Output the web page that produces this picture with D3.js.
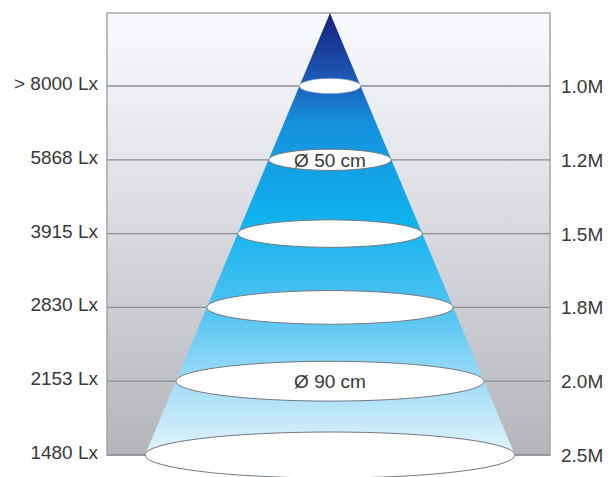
<!DOCTYPE html>
<html><head><meta charset="utf-8">
<script src="https://cdn.jsdelivr.net/npm/d3@7"></script>
<style>html,body{margin:0;padding:0;background:#fff;}svg{display:block;}</style>
</head><body>
<svg id="c" width="609" height="477"></svg>
<script>
const distances = ["1.0M","1.2M","1.5M","1.8M","2.0M","2.5M"];
const luxLabels = ["> 8000 Lx","5868 Lx","3915 Lx","2830 Lx","2153 Lx","1480 Lx"];
const beamLabels = ["","Ø 50 cm","","","Ø 90 cm",""];

const svg = d3.select("#c");
const box = {x0:107, x1:550, y0:13, y1:455};
const cx = 330;

const y = d3.scalePoint().domain(distances).range([86, 455]);
// cone half-width grows linearly from apex
const rx = d3.scaleLinear().domain([box.y0, 455]).range([0, 185]);
const ry = r => 0.1 * r + 4.5;

const defs = svg.append("defs");
const bg = defs.append("linearGradient").attr("id","bg").attr("x1",0).attr("y1",0).attr("x2",0).attr("y2",1);
bg.append("stop").attr("offset","0%").attr("stop-color","#fafbfe");
bg.append("stop").attr("offset","35%").attr("stop-color","#e2e4ea");
bg.append("stop").attr("offset","100%").attr("stop-color","#b3b5b9");

const cg = defs.append("linearGradient").attr("id","cone").attr("gradientUnits","userSpaceOnUse")
  .attr("x1",0).attr("y1",box.y0).attr("x2",0).attr("y2",470);
[[0,"#18207a"],[0.15,"#1c5cba"],[0.24,"#1690dc"],[0.45,"#10b2ee"],[0.65,"#50c3f2"],[0.82,"#a6def8"],[1,"#f2f9fe"]]
  .forEach(([o,c]) => cg.append("stop").attr("offset",o).attr("stop-color",c));

svg.append("rect").attr("x",box.x0).attr("y",box.y0).attr("width",box.x1-box.x0).attr("height",box.y1-box.y0)
  .attr("fill","url(#bg)").attr("stroke","#a4a6aa").attr("stroke-width",1.5);

// grid lines
svg.selectAll("line.grid").data(distances).join("line").attr("class","grid")
  .attr("x1",box.x0).attr("x2",box.x1).attr("y1",d=>y(d)).attr("y2",d=>y(d))
  .attr("stroke","#8c8e92").attr("stroke-width",1.3);

// cone
const yb = y(distances[distances.length-1]);
svg.append("path")
  .attr("d", `M${cx},${box.y0} L${cx+rx(yb)},${yb} L${cx-rx(yb)},${yb} Z`)
  .attr("fill","url(#cone)");

// ellipses
svg.selectAll("ellipse.ring").data(distances).join("ellipse").attr("class","ring")
  .attr("cx",cx).attr("cy",d=>y(d))
  .attr("rx",d=>rx(y(d))).attr("ry",d=>ry(rx(y(d))))
  .attr("fill","#ffffff").attr("stroke",(d,i)=>i===0?"#9aa6b8":"#737880").attr("stroke-width",(d,i)=>i===0?0.6:1);

const font = "Liberation Sans, Arial, sans-serif";
// beam labels
svg.selectAll("text.beam").data(distances).join("text").attr("class","beam")
  .attr("x",cx).attr("y",d=>y(d)+7)
  .attr("text-anchor","middle").attr("font-family",font)
  .attr("font-size",19).attr("fill","#383838")
  .text((d,i)=>beamLabels[i]);

// left labels
svg.selectAll("text.lux").data(distances).join("text").attr("class","lux")
  .attr("x",98).attr("y",d=>y(d)+4)
  .attr("text-anchor","end").attr("font-family",font)
  .attr("font-size",19).attr("fill","#383838")
  .text((d,i)=>luxLabels[i]);

// right labels
svg.selectAll("text.dist").data(distances).join("text").attr("class","dist")
  .attr("x",561).attr("y",d=>y(d)+7)
  .attr("text-anchor","start").attr("font-family",font)
  .attr("font-size",19).attr("fill","#383838")
  .text(d=>d);
</script>
</body></html>
